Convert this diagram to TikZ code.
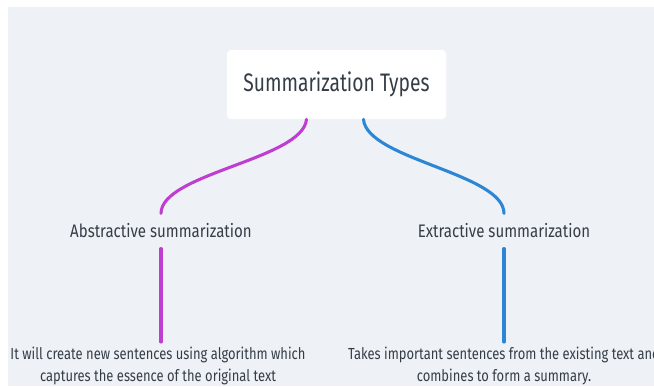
\documentclass[tikz,border=0pt]{standalone}
\usepackage{fontspec}
\setmainfont{Fira Sans}[FakeStretch=0.8]
\newfontfamily\titlefont{Fira Sans}[FakeStretch=0.76]
\newfontfamily\branchfont{Fira Sans}[FakeStretch=0.83]
\newfontfamily\leaffont{Fira Sans}[FakeStretch=0.81]
\definecolor{bgc}{HTML}{EEF2F6}
\definecolor{txt}{HTML}{353D47}
\definecolor{magc}{HTML}{C03DD2}
\definecolor{bluc}{HTML}{2D86D4}
\tikzset{
  rootbox/.style={fill=white, rounded corners=3pt, minimum width=164.25pt, minimum height=51.75pt, inner sep=0pt, font=\titlefont\fontsize{19}{21}\selectfont},
  branch/.style={minimum height=26pt, inner sep=0pt, font=\branchfont\fontsize{13.6}{15}\selectfont},
  leaf/.style={align=center, inner xsep=0pt, inner ysep=3.5pt, font=\leaffont\fontsize{12}{16.5}\selectfont},
  wire/.style={line width=2.3pt}
}
\begin{document}
\begin{tikzpicture}[scale=1, text=txt, line join=round, line cap=round, x=0.75pt, y=-0.75pt]
\useasboundingbox (0,0) rectangle (654,386);
\fill[bgc] (8,7) rectangle (654,386);
% root and branches
\node[rootbox] (root) at (336.5,84.5) {Summarization Types};
\node[branch] (abs) at (161,231) {Abstractive summarization};
\node[branch] (ext) at (504,231) {Extractive summarization};
\node[leaf, anchor=north] (absd) at (158,342) {It will create new sentences using algorithm which\\captures the essence of the original text};
\node[leaf, anchor=north] (extd) at (504,342) {Takes important sentences from the existing text and\\combines to form a summary.};
\draw[wire, magc] ([xshift=-22.5pt]root.south) .. controls ([xshift=-25pt, yshift=-30pt]root.south) and ([yshift=30pt]abs.north) .. (abs.north);
\draw[wire, bluc] ([xshift=20.25pt]root.south) .. controls ([xshift=22.5pt, yshift=-30pt]root.south) and ([yshift=30pt]ext.north) .. (ext.north);
\draw[wire, magc] (abs.south) -- (abs.south |- absd.north);
\draw[wire, bluc] (ext.south) -- (ext.south |- extd.north);
\end{tikzpicture}
\end{document}
